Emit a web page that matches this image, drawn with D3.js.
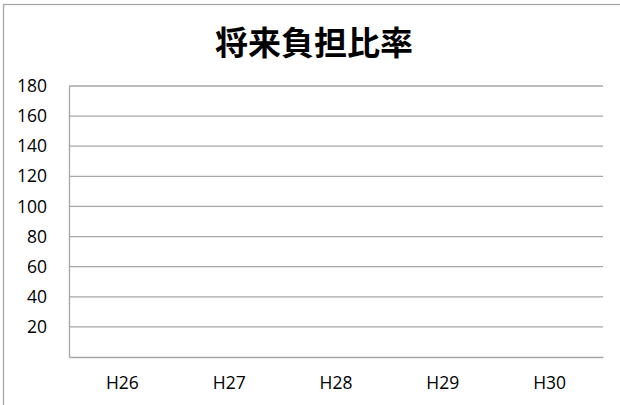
<!DOCTYPE html>
<html>
<head>
<meta charset="utf-8">
<script src="https://cdn.jsdelivr.net/npm/d3@7"></script>
<style>
  html, body { margin: 0; padding: 0; background: #fff; }
  svg { display: block; }
</style>
</head>
<body>
<svg id="chart" width="620" height="405"></svg>
<script>
const title = "将来負担比率";
const categories = ["H26", "H27", "H28", "H29", "H30"];
const values = [null, null, null, null, null];
const yTicks = [20, 40, 60, 80, 100, 120, 140, 160, 180];
const yDomain = [0, 180];

const svg = d3.select("#chart");
const W = 620, H = 405;
const m = { left: 69, right: 17, top: 86, bottom: 48 };

svg.append("rect")
  .attr("x", 3.5).attr("y", 4.5)
  .attr("width", W + 10).attr("height", H + 10)
  .attr("fill", "#fff").attr("stroke", "#a6a6a6").attr("stroke-width", 1.3);

svg.append("text")
  .attr("x", 314).attr("y", 41)
  .attr("text-anchor", "middle")
  .attr("dominant-baseline", "central")
  .attr("font-family", "'Noto Sans CJK JP', sans-serif")
  .attr("font-weight", "bold")
  .attr("font-size", 33)
  .attr("fill", "#000")
  .text(title);

const x = d3.scaleBand().domain(categories).range([m.left, W - m.right]);
const y = d3.scaleLinear().domain(yDomain).range([H - m.bottom, m.top]);

// gridlines
svg.append("g")
  .selectAll("line").data(yTicks).join("line")
  .attr("x1", m.left).attr("x2", W - m.right)
  .attr("y1", d => y(d)).attr("y2", d => y(d))
  .attr("stroke", "#a6a6a6").attr("stroke-width", 1.3);

// y axis
const yAxis = svg.append("g")
  .attr("transform", `translate(${m.left},0)`)
  .call(d3.axisLeft(y).tickValues(yTicks).tickSize(0).tickPadding(22));
yAxis.select(".domain").attr("stroke", "#a6a6a6").attr("stroke-width", 1.3);
yAxis.selectAll("text")
  .attr("font-family", "'Open Sans', sans-serif")
  .attr("font-size", 17.5).attr("fill", "#000");

// x axis
const xAxis = svg.append("g")
  .attr("transform", `translate(0,${H - m.bottom})`)
  .call(d3.axisBottom(x).tickSize(0).tickPadding(20));
xAxis.select(".domain").attr("stroke", "#a6a6a6").attr("stroke-width", 1.3);
xAxis.selectAll("text")
  .attr("font-family", "'Open Sans', sans-serif")
  .attr("font-size", 17.5).attr("fill", "#000");

// data marks (no values present)
svg.append("g").selectAll("rect")
  .data(categories.map((c, i) => ({ c, v: values[i] })).filter(d => d.v != null))
  .join("rect")
  .attr("x", d => x(d.c) + x.bandwidth() * 0.2)
  .attr("width", x.bandwidth() * 0.6)
  .attr("y", d => y(d.v))
  .attr("height", d => y(0) - y(d.v))
  .attr("fill", "#4472c4");
</script>
</body>
</html>
